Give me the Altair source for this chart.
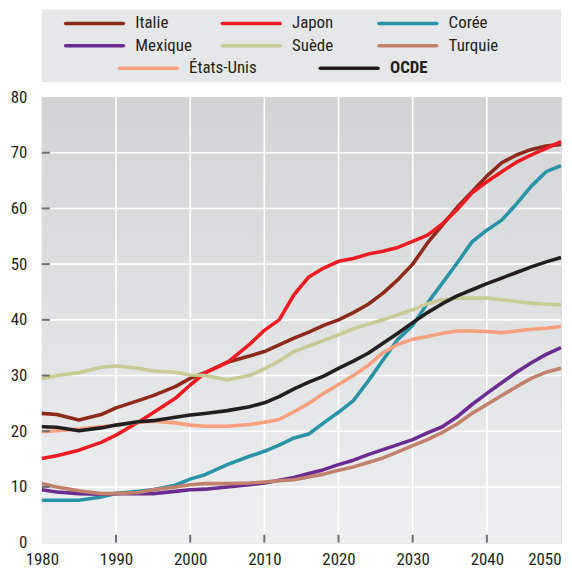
import altair as alt
import pandas as pd

years = [1980, 1982, 1985, 1988, 1990, 1993, 1995, 1998, 2000, 2002, 2005, 2008,
         2010, 2012, 2014, 2016, 2018, 2020, 2022, 2024, 2026, 2028, 2030, 2032,
         2034, 2036, 2038, 2040, 2042, 2044, 2046, 2048, 2050]

italie = [23.2, 23.0, 22.0, 23.0, 24.2, 25.5, 26.4, 28.0, 29.5, 30.5, 32.4, 33.5,
          34.3, 35.5, 36.7, 37.8, 39.0, 40.0, 41.3, 42.8, 44.8, 47.2, 50.0, 53.8,
          57.0, 60.2, 63.0, 65.8, 68.2, 69.6, 70.6, 71.2, 71.5]
japon = [15.1, 15.6, 16.6, 18.0, 19.3, 21.6, 23.3, 25.9, 28.3, 30.5, 32.3, 35.6,
         38.1, 40.0, 44.5, 47.7, 49.3, 50.5, 51.0, 51.8, 52.3, 53.0, 54.1, 55.2,
         57.2, 59.8, 62.8, 64.8, 66.6, 68.3, 69.6, 70.8, 72.0]
coree = [7.6, 7.6, 7.6, 8.2, 8.8, 9.2, 9.5, 10.3, 11.4, 12.2, 14.0, 15.5,
         16.4, 17.5, 18.8, 19.5, 21.5, 23.4, 25.5, 29.0, 32.8, 36.5, 39.0, 43.0,
         46.6, 50.2, 54.0, 56.1, 57.9, 60.8, 64.0, 66.6, 67.7]
mexique = [9.5, 9.1, 8.8, 8.7, 8.8, 8.8, 8.8, 9.2, 9.5, 9.6, 10.0, 10.4,
           10.7, 11.2, 11.7, 12.4, 13.1, 14.0, 14.8, 15.8, 16.7, 17.6, 18.5, 19.7,
           20.8, 22.6, 24.8, 26.8, 28.7, 30.6, 32.3, 33.8, 35.0]
suede = [29.4, 30.0, 30.5, 31.5, 31.7, 31.3, 30.8, 30.6, 30.1, 30.0, 29.2, 30.0,
         31.2, 32.6, 34.3, 35.3, 36.3, 37.3, 38.4, 39.2, 40.0, 40.9, 41.8, 42.9,
         43.6, 43.9, 43.9, 43.9, 43.6, 43.3, 43.0, 42.8, 42.7]
turquie = [10.6, 10.0, 9.3, 8.8, 8.8, 9.0, 9.5, 10.0, 10.4, 10.6, 10.6, 10.7,
           10.9, 11.1, 11.3, 11.8, 12.3, 13.0, 13.6, 14.4, 15.2, 16.3, 17.4, 18.5,
           19.8, 21.3, 23.2, 24.8, 26.4, 28.0, 29.5, 30.6, 31.3]
etats_unis = [19.9, 20.1, 20.4, 20.8, 21.1, 21.6, 21.8, 21.5, 21.1, 20.9, 20.9, 21.2,
              21.6, 22.1, 23.5, 25.0, 26.8, 28.4, 30.0, 31.8, 34.1, 35.6, 36.5, 37.0,
              37.6, 38.0, 38.0, 37.9, 37.7, 38.0, 38.3, 38.5, 38.8]
ocde = [20.8, 20.7, 20.1, 20.6, 21.1, 21.7, 21.9, 22.5, 22.9, 23.2, 23.7, 24.4,
        25.1, 26.2, 27.6, 28.8, 29.9, 31.3, 32.6, 34.0, 35.8, 37.6, 39.5, 41.3,
        42.9, 44.3, 45.4, 46.5, 47.5, 48.5, 49.5, 50.4, 51.2]

series = ["Italie", "Japon", "Corée", "Mexique", "Suède", "Turquie", "États-Unis", "OCDE"]
values = [italie, japon, coree, mexique, suede, turquie, etats_unis, ocde]
colors = ["#8c2a1c", "#ed1c24", "#2b93a6", "#6a2c91", "#c8cb96", "#c1826d", "#f7a07f", "#231f20"]
widths = [3.6, 3.6, 3.6, 3.6, 3.6, 3.6, 3.6, 5.0]

x_labels = [1980, 1990, 2000, 2010, 2020, 2030, 2040, 2050]
y_labels = [0, 10, 20, 30, 40, 50, 60, 70, 80]
x_inner = [1990, 2000, 2010, 2020, 2030, 2040]
y_inner = [10, 20, 30, 40, 50, 60, 70]

FONT = "Roboto Condensed, Liberation Sans Narrow, Arial Narrow, Liberation Sans, sans-serif"
W, H = 522, 448

rows = []
for i, (name, vals) in enumerate(zip(series, values)):
    for yr, v in zip(years, vals):
        rows.append({"pays": name, "annee": yr, "valeur": v, "ordre": i})
df = pd.DataFrame(rows)

xs = alt.Scale(domain=[1980, 2050], nice=False, zero=False)
ys = alt.Scale(domain=[0, 80], nice=False, zero=True)

x_axis = alt.Axis(values=x_labels, format="d", title=None, ticks=False, tickSize=0,
                  domain=False, grid=False, labelFontSize=17, labelFont=FONT,
                  labelColor="#231f20", labelPadding=9,
                  labelAlign={"expr": "datum.value >= 2050 ? 'right' : 'center'"})
y_axis = alt.Axis(values=y_labels, title=None, ticks=False, tickSize=0, domain=False,
                  grid=False, labelFontSize=17, labelFont=FONT, labelColor="#231f20",
                  labelPadding=15)

bg = alt.Chart(pd.DataFrame({"a": [1980], "b": [2050], "c": [0], "d": [80]})).mark_rect(
    fill=alt.LinearGradient(gradient="linear", x1=0, x2=0, y1=0, y2=1,
                            stops=[alt.GradientStop(color="#d2d3d5", offset=0),
                                   alt.GradientStop(color="#eeeff0", offset=1)])
).encode(
    x=alt.X("a:Q", scale=xs, axis=x_axis), x2="b:Q",
    y=alt.Y("c:Q", scale=ys, axis=y_axis), y2="d:Q",
)

vgrid = alt.Chart(pd.DataFrame({"v": x_inner})).mark_rule(color="white", strokeWidth=1.6).encode(
    x=alt.X("v:Q", scale=xs, axis=x_axis))
hgrid = alt.Chart(pd.DataFrame({"v": y_inner})).mark_rule(color="white", strokeWidth=1.6).encode(
    y=alt.Y("v:Q", scale=ys, axis=y_axis))

lines = alt.Chart(df).mark_line(strokeJoin="round").encode(
    x=alt.X("annee:Q", scale=xs, axis=x_axis),
    y=alt.Y("valeur:Q", scale=ys, axis=y_axis),
    color=alt.Color("pays:N", scale=alt.Scale(domain=series, range=colors), legend=None),
    strokeWidth=alt.StrokeWidth("pays:N", scale=alt.Scale(domain=series, range=widths), legend=None),
    order=alt.Order("ordre:Q"),
    detail="pays:N",
)

yticks = alt.Chart(pd.DataFrame({"v": y_inner})).mark_rule(color="#6d6e71", strokeWidth=2).encode(
    y=alt.Y("v:Q", scale=ys, axis=y_axis), x=alt.value(0), x2=alt.value(8))
xticks = alt.Chart(pd.DataFrame({"v": x_inner})).mark_rule(color="#6d6e71", strokeWidth=2).encode(
    x=alt.X("v:Q", scale=xs, axis=x_axis), y=alt.value(H - 8), y2=alt.value(H))

main = alt.layer(bg, vgrid, hgrid, lines, yticks, xticks).properties(width=W, height=H)

# ---- legend (custom, 3 + 3 + 2 centred) ----
LW, LH = W, 73
col_start, col_step, line_len, text_gap = 24, 157.5, 58, 70
row_y = [14, 36.5, 59]
last_start, last_step = 78, 202
leg_rows = []
for i, (name, col, w) in enumerate(zip(series, colors, widths)):
    if i < 6:
        x0 = col_start + (i % 3) * col_step
        r = row_y[i // 3]
    else:
        x0 = last_start + (i - 6) * last_step
        r = row_y[2]
    leg_rows.append({"pays": name, "x0": x0, "x1": x0 + line_len, "xt": x0 + text_gap,
                     "r": r, "bold": "bold" if name == "OCDE" else "normal"})
leg_df = pd.DataFrame(leg_rows)
lxs = alt.Scale(domain=[0, LW], range=[0, LW], nice=False, zero=False)
lys = alt.Scale(domain=[0, LH], range=[0, LH], nice=False, zero=False)

leg_lines = alt.Chart(leg_df).mark_rule(strokeCap="round").encode(
    x=alt.X("x0:Q", scale=lxs, axis=None), x2="x1:Q",
    y=alt.Y("r:Q", scale=lys, axis=None),
    color=alt.Color("pays:N", scale=alt.Scale(domain=series, range=colors), legend=None),
    strokeWidth=alt.StrokeWidth("pays:N", scale=alt.Scale(domain=series, range=widths), legend=None),
)
leg_text = alt.Chart(leg_df[leg_df.bold == "normal"]).mark_text(
    align="left", baseline="middle", fontSize=17, font=FONT, color="#231f20"
).encode(x=alt.X("xt:Q", scale=lxs, axis=None), y=alt.Y("r:Q", scale=lys, axis=None), text="pays:N")
leg_text_b = alt.Chart(leg_df[leg_df.bold == "bold"]).mark_text(
    align="left", baseline="middle", fontSize=17, font=FONT, color="#231f20", fontWeight="bold"
).encode(x=alt.X("xt:Q", scale=lxs, axis=None), y=alt.Y("r:Q", scale=lys, axis=None), text="pays:N")

legend = alt.layer(leg_lines, leg_text, leg_text_b).properties(
    width=LW, height=LH, view=alt.ViewBackground(fill="#e6e7e8", strokeWidth=0))

chart = alt.vconcat(legend, main, spacing=15, bounds="flush").properties(
    padding={"left": 1, "top": 0, "right": 0, "bottom": 0}
).resolve_scale(color="independent", strokeWidth="independent").configure_view(
    strokeWidth=0
).configure(background="white")

chart.save("out.html", embed_options={"renderer": "svg", "actions": False})
